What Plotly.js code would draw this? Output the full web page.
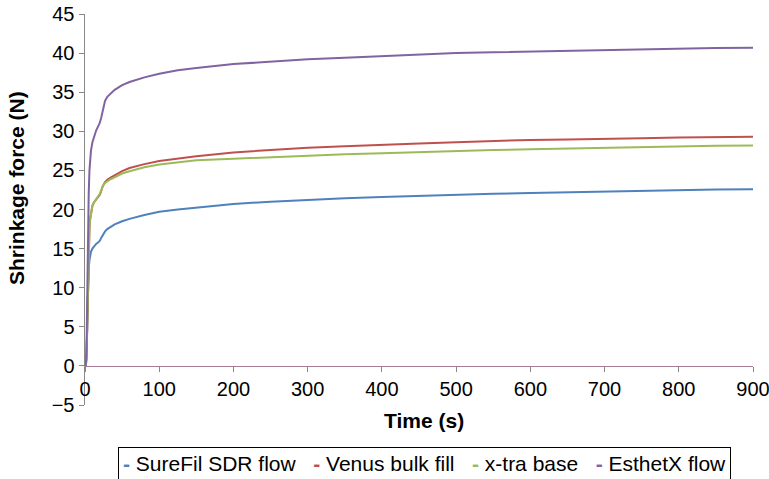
<!DOCTYPE html>
<html>
<head>
<meta charset="utf-8">
<script src="https://cdn.plot.ly/plotly-3.0.1.min.js"></script>
<style>html,body{margin:0;padding:0;background:#fff;}#chart{width:769px;height:479px;}</style>
</head>
<body>
<div id="chart"></div>
<script>
var time = [0,1,2,3,4,5,6,7,8,10,12,15,18,20,22,24,27,30,35,40,50,60,80,100,125,150,200,250,300,350,400,450,500,550,600,650,700,750,800,850,900];
var sureFil = [0,0,1,5,10,12.5,13.5,14.2,14.6,15.0,15.3,15.6,15.8,16.0,16.4,16.8,17.2,17.5,17.8,18.1,18.5,18.8,19.3,19.7,20.0,20.25,20.7,21.0,21.25,21.45,21.6,21.75,21.9,22.0,22.1,22.2,22.3,22.4,22.5,22.55,22.6];
var venus = [0,0,1,6,12,15.5,17.5,18.8,19.5,20.5,20.9,21.3,21.6,21.9,22.4,23.0,23.5,23.8,24.1,24.4,24.9,25.3,25.8,26.2,26.5,26.8,27.3,27.6,27.9,28.1,28.3,28.45,28.6,28.75,28.9,28.95,29.0,29.1,29.2,29.25,29.3];
var xtra = [0,0,1,6,12,15.5,17.5,18.8,19.5,20.5,20.9,21.3,21.7,22.0,22.5,23.0,23.4,23.6,23.9,24.1,24.6,24.9,25.4,25.75,26.05,26.3,26.5,26.7,26.9,27.05,27.2,27.35,27.5,27.6,27.7,27.8,27.9,28.0,28.1,28.15,28.2];
var esthetx = [0,0,2,10,17,22,25,26.5,27.5,28.6,29.3,30.1,30.7,31.1,31.8,32.8,33.9,34.4,34.9,35.3,35.9,36.3,36.9,37.35,37.8,38.1,38.6,38.9,39.2,39.4,39.6,39.8,40.0,40.1,40.2,40.3,40.4,40.5,40.6,40.65,40.7];

var names = ['SureFil SDR flow','Venus bulk fill','x-tra base','EsthetX flow'];
var colors = ['#4f81bd','#c0504d','#9bbb59','#8064a2'];
var series = [sureFil, venus, xtra, esthetx];
var xTitle = 'Time (s)';
var yTitle = 'Shrinkage force (N)';

var data = series.map(function(s,i){
  return {x: time, y: s, type:'scatter', mode:'lines', name:names[i],
    line:{color:colors[i], width:2}, showlegend:false, hoverinfo:'skip'};
});

var legendText = names.map(function(n,i){
  return '<span style="color:'+colors[i]+'"><b>-</b></span>\u00a0'+n;
}).join('\u00a0\u00a0\u00a0');

var font = 'Liberation Sans, Arial, Helvetica, sans-serif';
var layout = {
  width:769, height:479,
  margin:{l:85, r:16, t:14, b:74, autoexpand:false},
  paper_bgcolor:'#fff', plot_bgcolor:'#fff',
  font:{family:font, color:'#000', size:20},
  xaxis:{range:[0,900], dtick:100, anchor:'free', position:0.1,
    showline:true, linecolor:'#a87a98', linewidth:1.5,
    ticks:'outside', ticklen:5, tickcolor:'#888', showgrid:false, zeroline:false,
    tickfont:{size:20}, automargin:false, ticklabeloverflow:'allow'},
  yaxis:{range:[-5,45], dtick:5, showline:true, linecolor:'#888', linewidth:1.5,
    ticks:'outside', ticklen:5, tickcolor:'#888', showgrid:false, zeroline:false,
    tickfont:{size:20}, automargin:false},
  showlegend:false,
  annotations:[
    {xref:'paper', yref:'paper', x:0.5075, y:-0.1496, xanchor:'center', yanchor:'middle',
     text:legendText, showarrow:false, font:{size:21, color:'#000'},
     bordercolor:'#000', borderwidth:1, borderpad:4, bgcolor:'#fff'},
    {xref:'paper', yref:'paper', x:0.5075, y:-0.0409, xanchor:'center', yanchor:'middle',
     text:'<b>'+xTitle+'</b>', showarrow:false, font:{size:21, color:'#000'}},
    {xref:'paper', yref:'paper', x:-0.1018, y:0.555, xanchor:'center', yanchor:'middle',
     text:'<b>'+yTitle+'</b>', textangle:-90, showarrow:false, font:{size:21, color:'#000'}}
  ]
};
Plotly.newPlot('chart', data, layout, {displayModeBar:false, staticPlot:true});
</script>
</body>
</html>
